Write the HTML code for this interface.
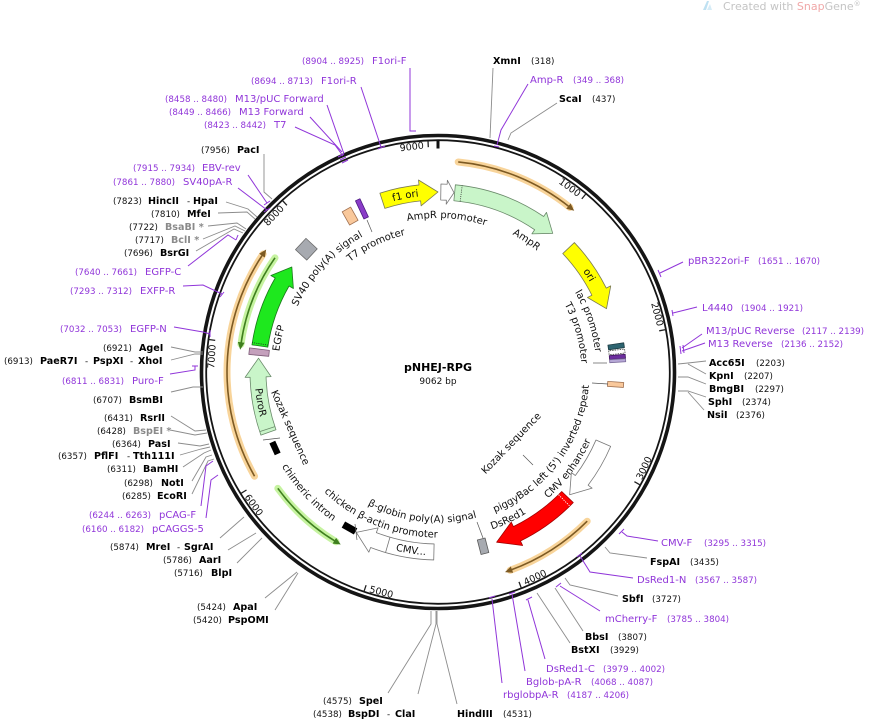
<!DOCTYPE html>
<html><head><meta charset="utf-8"><title>pNHEJ-RPG</title>
<style>
html,body{margin:0;padding:0;background:#fff;}
svg{display:block;}
text{font-family:"DejaVu Sans","Liberation Sans",sans-serif;}
.n{font-size:8.7px;fill:#111;}
.e{font-size:9.6px;font-weight:bold;fill:#000;}
.g{font-size:9.6px;font-weight:bold;fill:#8a8a8a;}
.pn{font-size:8.7px;fill:#9035d9;}
.p{font-size:10px;fill:#9035d9;}
.f{font-size:10px;fill:#111;}
.t{font-size:9.5px;fill:#111;}
.gl{stroke:#8c8c8c;stroke-width:0.9;fill:none;}
.pl{stroke:#9035d9;stroke-width:1;fill:none;}
</style></head><body>
<svg width="875" height="721" viewBox="0 0 875 721" xmlns="http://www.w3.org/2000/svg">
<defs>
<marker id="mo" markerUnits="userSpaceOnUse" markerWidth="8" markerHeight="8" refX="2" refY="4" orient="auto" viewBox="0 0 8 8"><path d="M0,0.6 L7.5,4 L0,7.4 z" fill="#7d5a23"/></marker>
<marker id="mg" markerUnits="userSpaceOnUse" markerWidth="8" markerHeight="8" refX="2" refY="4" orient="auto" viewBox="0 0 8 8"><path d="M0,0.6 L7.5,4 L0,7.4 z" fill="#3f7f1f"/></marker>
<path id="t154" d="M-151.66,-26.74 A154,154 0 0 1 151.66,-26.74"/>
<path id="t156" d="M-154.12,-27.18 A156.5,156.5 0 0 1 154.12,-27.18"/>
<path id="t176" d="M-173.82,-30.65 A176.5,176.5 0 0 1 173.82,-30.65"/>
<path id="t158" d="M-156.09,-27.52 A158.5,158.5 0 0 1 156.09,-27.52"/>
<path id="t143" d="M-141.32,-24.92 A143.5,143.5 0 0 1 141.32,-24.92"/>
<path id="t160" d="M-157.57,-27.78 A160,160 0 0 1 157.57,-27.78"/>
<path id="t155" d="M-152.65,-26.92 A155,155 0 0 1 152.65,-26.92"/>
<path id="t141" d="M-138.86,-24.48 A141,141 0 0 1 138.86,-24.48"/>
<path id="b151" d="M-149.20,26.31 A151.5,151.5 0 0 0 149.20,26.31"/>
<path id="b167" d="M-164.96,29.09 A167.5,167.5 0 0 0 164.96,29.09"/>
<path id="b166" d="M-163.97,28.91 A166.5,166.5 0 0 0 163.97,28.91"/>
<path id="b150" d="M-148.21,26.13 A150.5,150.5 0 0 0 148.21,26.13"/>
<path id="b165" d="M-162.99,28.74 A165.5,165.5 0 0 0 162.99,28.74"/>
<path id="b183" d="M-180.71,31.86 A183.5,183.5 0 0 0 180.71,31.86"/>
<path id="b182" d="M-179.73,31.69 A182.5,182.5 0 0 0 179.73,31.69"/>
</defs>

<!-- SnapGene watermark -->
<path d="M703,10 L707,1 L709,1 L706,10 Z" fill="#bfe1f2"/>
<path d="M707,10 L710,4 L712,10 Z" fill="#d6ecf7"/>
<text x="723" y="10" font-size="11" fill="#c4c4c4">Created with <tspan fill="#f0a8a8">Snap</tspan>Gene<tspan font-size="7" dy="-4">®</tspan></text>

<g transform="translate(438 372)">
  <!-- backbone -->
  <circle r="236.5" fill="none" stroke="#151515" stroke-width="3.6"/>
  <circle r="231.8" fill="none" stroke="#151515" stroke-width="1.8"/>
  <!-- ticks -->
  <path d="M143.8,-173.1 L147.9,-178.1 M221.2,-41.2 L227.6,-42.4 M196.4,109.7 L202.1,112.9 M81.0,209.9 L83.3,216.0 M-71.9,213.2 L-74.0,219.4 M-191.5,118.0 L-197.1,121.4 M-222.8,-31.6 L-229.2,-32.5 M-151.1,-166.7 L-155.5,-171.5 M-9.7,-224.8 L-10.0,-231.3" stroke="#222" stroke-width="1.3" fill="none"/>
  <path d="M0,-223.5 L0,-231.5" stroke="#111" stroke-width="3"/>
  <g class="t" text-anchor="middle">
    <text transform="translate(131.9 -184.7) rotate(35.53)" dy="3.4">1000</text>
    <text transform="translate(219.5 -57.8) rotate(75.25)" dy="3.4">2000</text>
    <text transform="translate(205.8 95.9) rotate(-65.02)" dy="3.4">3000</text>
    <text transform="translate(97.0 205.2) rotate(-25.3)" dy="3.4">4000</text>
    <text transform="translate(-56.6 219.8) rotate(14.43)" dy="3.4">5000</text>
    <text transform="translate(-184.0 132.9) rotate(54.16)" dy="3.4">6000</text>
    <text transform="translate(-226.5 -15.4) rotate(-86.12)" dy="3.4">7000</text>
    <text transform="translate(-164.3 -156.6) rotate(-46.39)" dy="3.4">8000</text>
    <text transform="translate(-26.3 -225.5) rotate(-6.66)" dy="3.4">9000</text>
  </g>

  <!-- ORFs -->
  <g fill="none" stroke-linecap="round">
    <path d="M20.22,-210.03 A211,211 0 0 1 131.92,-164.66" stroke="#f8d49a" stroke-width="7"/>
    <path d="M-183.46,104.21 A211,211 0 0 1 -174.92,-117.99" stroke="#f8d49a" stroke-width="7"/>
    <path d="M149.2,149.2 A211,211 0 0 1 72.17,198.28" stroke="#f8d49a" stroke-width="7"/>
    <path d="M-163.01,-114.15 A199,199 0 0 0 -197.06,-27.70" stroke="#c6f3a0" stroke-width="7"/>
    <path d="M-160.18,116.38 A198,198 0 0 0 -101.98,169.72" stroke="#c6f3a0" stroke-width="7"/>
  </g>
  <g fill="none" stroke-width="1.6">
    <path d="M20.22,-210.03 A211,211 0 0 1 131.92,-164.66" stroke="#7d5a23" marker-end="url(#mo)"/>
    <path d="M-183.46,104.21 A211,211 0 0 1 -174.92,-117.99" stroke="#7d5a23" marker-end="url(#mo)"/>
    <path d="M149.2,149.2 A211,211 0 0 1 72.17,198.28" stroke="#7d5a23" marker-end="url(#mo)"/>
    <path d="M-163.01,-114.15 A199,199 0 0 0 -197.06,-27.70" stroke="#3f7f1f" marker-end="url(#mg)"/>
    <path d="M-160.18,116.38 A198,198 0 0 0 -101.98,169.72" stroke="#3f7f1f" marker-end="url(#mg)"/>
  </g>

  <!-- features -->
  <g stroke-width="0.8" stroke-linejoin="round">
    <path d="M-58.09,-178.81 A188,188 0 0 1 -19.01,-187.04 L-19.51,-192.02 L0,-180 L-16.88,-166.15 L-17.39,-171.12 A172,172 0 0 0 -53.15,-163.59 Z" fill="#ffff00" stroke="#7a7a50"/>
    <path d="M2.95,-187.98 A188,188 0 0 1 9.17,-187.77 L9.37,-191.77 L16.00,-179.28 L8.20,-167.80 L8.39,-171.79 A172,172 0 0 0 2.70,-171.98 Z" fill="#fff" stroke="#777"/>
    <path d="M17.37,-187.19 A188,188 0 0 1 105.67,-155.49 L108.49,-159.63 L114.73,-138.69 L93.87,-138.13 L96.68,-142.26 A172,172 0 0 0 15.89,-171.26 Z" fill="#c9f5c9" stroke="#6a8a6a"/>
    <path d="M136.38,-129.42 A188,188 0 0 1 168.24,-83.89 L172.72,-86.12 L168.50,-63.32 L149.45,-74.52 L153.92,-76.75 A172,172 0 0 0 124.77,-118.40 Z" fill="#ffff00" stroke="#7a7a50"/>
    <path d="M172.66,74.35 A188,188 0 0 1 150.14,113.14 L154.13,116.15 L131.65,122.76 L133.37,100.50 L137.36,103.51 A172,172 0 0 0 157.96,68.03 Z" fill="#fff" stroke="#777"/>
    <path d="M135.23,130.60 A188,188 0 0 1 82.42,168.97 L84.61,173.47 L58.61,170.19 L73.21,150.10 L75.40,154.59 A172,172 0 0 0 123.72,119.49 Z" fill="#ff0000" stroke="#a00000"/>
    <path d="M-4.27,187.94 A188,188 0 0 1 -67.38,175.52 L-69.17,180.18 L-81.72,160.38 L-59.85,155.91 L-61.64,160.58 A172,172 0 0 0 -3.90,171.95 Z" fill="#fff" stroke="#777"/>
    <path d="M-52.45,180.54 L-47.99,165.17" stroke="#777"/>
    <path d="M-177.11,63.07 A188,188 0 0 1 -187.92,5.25 L-192.92,5.38 L-179.48,-13.81 L-166.93,4.66 L-171.93,4.80 A172,172 0 0 0 -162.04,57.71 Z" fill="#c9f5c9" stroke="#6a8a6a"/>
    <path d="M-163.11,54.58 L-178.28,59.65" stroke="#6a8a6a"/>
    <path d="M-186.03,-27.15 A188,188 0 0 1 -162.81,-94.0 L-167.14,-96.5 L-146.18,-105.03 L-144.62,-83.5 L-148.95,-86.0 A172,172 0 0 0 -170.19,-24.84 Z" fill="#1ee81e" stroke="#1a7a1a"/>
    <path d="M-189.18,-17.56 L-188.46,-24.15 L-168.62,-21.61 L-169.27,-15.71 Z" fill="#c4a0bc" stroke="#7e5c78"/>
    <rect x="-7.7" y="-7.7" width="15.4" height="15.4" transform="translate(-131.65 -122.76) rotate(-47)" fill="#a7aab0" stroke="#6a6a6a"/>
    <rect x="-4.85" y="-7.6" width="9.7" height="15.2" transform="translate(-87.87 -155.94) rotate(-29.4)" fill="#f9c89b" stroke="#a07050"/>
    <rect x="-2.5" y="-10" width="5" height="20" transform="translate(-76.07 -163.13) rotate(-25)" fill="#8a3cc8" stroke="#4b1a80"/>
    <rect x="-2.4" y="-8" width="4.8" height="16" transform="translate(178.16 -25.67) rotate(81.8)" fill="#2d6470" stroke="#1c3a40"/>
    <rect x="-2" y="-8" width="4" height="16" transform="translate(178.88 -20.06) rotate(83.6)" fill="#fff" stroke="#444" stroke-dasharray="1.5 1"/>
    <rect x="-2" y="-8" width="4" height="16" transform="translate(179.37 -15.06) rotate(85.2)" fill="#6c2e9e" stroke="#40155e"/>
    <rect x="-1.5" y="-8" width="3" height="16" transform="translate(179.65 -11.30) rotate(86.4)" fill="#b6a7d6" stroke="#7a6a9a"/>
    <rect x="-2.5" y="-8" width="5" height="16" transform="translate(177.57 12.42) rotate(94)" fill="#f9c89b" stroke="#a07050"/>
    <rect x="-4" y="-7.5" width="8" height="15" transform="translate(45.07 174.26) rotate(165.5)" fill="#a7aab0" stroke="#5a5a5a"/>
    <rect x="-7" y="-3.5" width="14" height="7" transform="translate(-88.5 156) rotate(209.5)" fill="#000"/>
    <rect x="-6.5" y="-3.2" width="13" height="6.4" transform="translate(-163 76) rotate(245.5)" fill="#000"/>
  </g>
  <!-- dotted marks -->
  <path d="M22.15,-170.57 L24.21,-186.43" stroke="#333" stroke-width="0.8" stroke-dasharray="1 1.2"/>
  <path d="M-169.88,-26.90 L-185.69,-29.40" stroke="#222" stroke-width="0.8" stroke-dasharray="1 1.2"/>
  <path d="M120.55,122.69 L131.77,134.10" stroke="#fff" stroke-width="0.9" stroke-dasharray="1.2 1.2"/>

  <!-- inner leader lines -->
  <g stroke="#555" stroke-width="0.7" fill="none">
    <path d="M-71,-152 L-66,-140"/>
    <path d="M155,-9 L169,-9"/>
    <path d="M154,11 L170,12"/>
    <path d="M85,83 L95,93"/>
    <path d="M39,150 L45,166"/>
    <path d="M-175,68 L-158,66"/>
    <path d="M-83,152 L-81,168"/>
  </g>

  <!-- feature labels -->
  <g class="f" text-anchor="middle">
    <g transform="rotate(3.3)"><text text-anchor="middle"><textPath href="#t154" startOffset="50%">AmpR promoter</textPath></text></g>
    <g transform="rotate(33.8)"><text text-anchor="middle"><textPath href="#t156" startOffset="50%">AmpR</textPath></text></g>
    <g transform="rotate(-10.5)"><text text-anchor="middle"><textPath href="#t176" startOffset="50%">f1 ori</textPath></text></g>
    <g transform="rotate(57.3)"><text text-anchor="middle"><textPath href="#t176" startOffset="50%">ori</textPath></text></g>
    <g transform="rotate(71.3)"><text text-anchor="middle"><textPath href="#t158" startOffset="50%">lac promoter</textPath></text></g>
    <g transform="rotate(74.2)"><text text-anchor="middle"><textPath href="#t143" startOffset="50%">T3 promoter</textPath></text></g>
    <g transform="rotate(-53.5)"><text text-anchor="middle"><textPath href="#b151" startOffset="50%">piggyBac left (5') inverted repeat</textPath></text></g>
    <g transform="rotate(-53.4)"><text text-anchor="middle"><textPath href="#b167" startOffset="50%">CMV enhancer</textPath></text></g>
    <g transform="rotate(-25.5)"><text text-anchor="middle"><textPath href="#b166" startOffset="50%">DsRed1</textPath></text></g>
    <g transform="rotate(6.5)"><text text-anchor="middle"><textPath href="#b150" startOffset="50%">β-globin poly(A) signal</textPath></text></g>
    <g transform="rotate(21.8)"><text text-anchor="middle"><textPath href="#b165" startOffset="50%">chicken β-actin promoter</textPath></text></g>
    <g transform="rotate(8.6)"><text text-anchor="middle"><textPath href="#b183" startOffset="50%">CMV...</textPath></text></g>
    <g transform="rotate(47)"><text text-anchor="middle"><textPath href="#b182" startOffset="50%">chimeric intron</textPath></text></g>
    <g transform="rotate(80.3)"><text text-anchor="middle"><textPath href="#b183" startOffset="50%">PuroR</textPath></text></g>
    <g transform="rotate(-78)"><text text-anchor="middle"><textPath href="#t160" startOffset="50%">EGFP</textPath></text></g>
    <g transform="rotate(-47)"><text text-anchor="middle"><textPath href="#t155" startOffset="50%">SV40 poly(A) signal</textPath></text></g>
    <g transform="rotate(-26)"><text text-anchor="middle"><textPath href="#t141" startOffset="50%">T7 promoter</textPath></text></g>
  </g>
</g>

<!-- straight inner labels -->
<text class="f" text-anchor="middle" transform="translate(511 443) rotate(-46)" dy="3.5">Kozak sequence</text>
<text class="f" text-anchor="middle" transform="translate(290.5 427.5) rotate(66)" dy="3.5">Kozak sequence</text>

<!-- center -->
<text x="438" y="371" text-anchor="middle" font-weight="bold" font-size="11" fill="#000">pNHEJ-RPG</text>
<text x="438" y="384" text-anchor="middle" font-size="9" fill="#111">9062 bp</text>

<!-- enzyme leader lines -->
<g class="gl">
  <polyline points="264,154 264,192 272,199"/>
  <polyline points="226,202 248,209 257,217"/>
  <polyline points="218,213 247,212 255,219"/>
  <polyline points="208,226 237,223 246,229"/>
  <polyline points="203,239 235,226 245,231"/>
  <polyline points="196,251 234,229 243,233"/>
  <polyline points="171,347 195,352 203,352"/>
  <polyline points="171,360 195,354 203,354"/>
  <polyline points="171,392 193,387 203,387"/>
  <polyline points="171,416 195,431 206,430"/>
  <polyline points="170,430 195,435 207,433"/>
  <polyline points="178,443 200,446 209,444"/>
  <polyline points="180,455 201,449 210,447"/>
  <polyline points="183,467 204,453 211,450"/>
  <polyline points="192,481 206,457 212,455"/>
  <polyline points="192,494 208,461 214,459"/>
  <polyline points="220,538 244,517"/>
  <polyline points="228,550 256,533"/>
  <polyline points="237,563 262,538"/>
  <polyline points="265,598 297,572"/>
  <polyline points="275,610 298,573"/>
  <polyline points="388,693 431,624 431,611"/>
  <polyline points="418,694 436,624 436,611"/>
  <polyline points="457,704 437,624 437,611"/>
  <polyline points="570,643 537,593"/>
  <polyline points="583,631 555,588"/>
  <polyline points="618,596 570,585 565,578"/>
  <polyline points="647,558 610,553 605,547"/>
  <polyline points="706,361 688,363 678,364"/>
  <polyline points="706,374 688,364"/>
  <polyline points="706,384 688,377 678,377"/>
  <polyline points="706,397 688,391 678,391"/>
  <polyline points="704,410 688,392"/>
  <polyline points="493,68 490,138"/>
  <polyline points="557,103 511,133 508,140"/>
</g>

<!-- primer leader lines -->
<g class="pl">
  <polyline points="410,68 410,131 416,131"/>
  <polyline points="361,87 381,147"/><path d="M378,149 L385,146"/>
  <polyline points="327,105 344,154"/>
  <polyline points="310,117 342,152"/>
  <polyline points="295,127 335,145 343,156"/>
  <path d="M338,157 L344,154 M340,160 L346,157 M342,163 L348,160"/>
  <polyline points="248,175 267,203"/><path d="M264,205 L270,201"/>
  <polyline points="238,188 267,210"/><path d="M264,212 L270,208"/>
  <polyline points="188,266 228,235 236,240"/><path d="M236,240 L238,235"/>
  <polyline points="183,286 203,285 222,294"/><path d="M220,297 L224,292"/>
  <polyline points="174,327 203,332 210,334"/><path d="M210,330 L210,337"/>
  <polyline points="170,374 195,370 195,366"/><path d="M192,366 L198,366"/>
  <polyline points="201,506 206,466 213,461"/>
  <polyline points="206,518 211,480 218,475"/>
  <polyline points="502,683 492,599"/><path d="M489,598 L495,596"/>
  <polyline points="525,671 512,594"/><path d="M509,594 L515,592"/>
  <polyline points="545,659 528,600"/><path d="M526,600 L532,597"/>
  <polyline points="600,611 560,586"/><path d="M556,587 L561,583"/>
  <polyline points="633,578 590,572 580,556"/><path d="M577,557 L582,553"/>
  <polyline points="658,541 627,536 622,532"/><path d="M619,534 L624,529"/>
  <polyline points="683,262 660,273"/><path d="M658,270 L661,277"/>
  <polyline points="697,307 673,313"/><path d="M672,310 L673,316"/>
  <polyline points="702,334 682,348"/>
  <polyline points="705,343 682,351"/>
  <path d="M680,346 L681,354 M683,345 L684,353"/>
  <polyline points="528,84 501,130 497,145"/><path d="M494,146 L499,147"/>
</g>

<!-- outer labels: top / left -->
<text class="pn" x="302" y="64">(8904 .. 8925)</text><text class="p" x="372" y="64">F1ori-F</text>
<text class="pn" x="251" y="84">(8694 .. 8713)</text><text class="p" x="321" y="84">F1ori-R</text>
<text class="pn" x="165" y="102">(8458 .. 8480)</text><text class="p" x="235" y="102">M13/pUC Forward</text>
<text class="pn" x="169" y="115">(8449 .. 8466)</text><text class="p" x="239" y="115">M13 Forward</text>
<text class="pn" x="204" y="128">(8423 .. 8442)</text><text class="p" x="274" y="128">T7</text>
<text class="n" x="201" y="153">(7956)</text><text class="e" x="237" y="153">PacI</text>
<text class="pn" x="133" y="171">(7915 .. 7934)</text><text class="p" x="202" y="171">EBV-rev</text>
<text class="pn" x="113" y="185">(7861 .. 7880)</text><text class="p" x="183" y="185">SV40pA-R</text>
<text class="n" x="113" y="204">(7823)</text><text class="e" x="148" y="204">HincII</text><text class="n" x="187" y="204">-</text><text class="e" x="193" y="204">HpaI</text>
<text class="n" x="151" y="217">(7810)</text><text class="e" x="187" y="217">MfeI</text>
<text class="n" x="129" y="230">(7722)</text><text class="g" x="165" y="230">BsaBI *</text>
<text class="n" x="135" y="243">(7717)</text><text class="g" x="171" y="243">BclI *</text>
<text class="n" x="124" y="256">(7696)</text><text class="e" x="160" y="256">BsrGI</text>
<text class="pn" x="75" y="275">(7640 .. 7661)</text><text class="p" x="145" y="275">EGFP-C</text>
<text class="pn" x="70" y="294">(7293 .. 7312)</text><text class="p" x="140" y="294">EXFP-R</text>
<text class="pn" x="60" y="332">(7032 .. 7053)</text><text class="p" x="130" y="332">EGFP-N</text>
<text class="n" x="103" y="351">(6921)</text><text class="e" x="139" y="351">AgeI</text>
<text class="n" x="4" y="364">(6913)</text><text class="e" x="40" y="364">PaeR7I</text><text class="n" x="85" y="364">-</text><text class="e" x="93" y="364">PspXI</text><text class="n" x="130" y="364">-</text><text class="e" x="138" y="364">XhoI</text>
<text class="pn" x="62" y="384">(6811 .. 6831)</text><text class="p" x="132" y="384">Puro-F</text>
<text class="n" x="93" y="403">(6707)</text><text class="e" x="129" y="403">BsmBI</text>
<text class="n" x="104" y="421">(6431)</text><text class="e" x="140" y="421">RsrII</text>
<text class="n" x="97" y="434">(6428)</text><text class="g" x="133" y="434">BspEI *</text>
<text class="n" x="112" y="447">(6364)</text><text class="e" x="148" y="447">PasI</text>
<text class="n" x="58" y="459">(6357)</text><text class="e" x="94" y="459">PflFI</text><text class="n" x="127" y="459">-</text><text class="e" x="133" y="459">Tth111I</text>
<text class="n" x="107" y="472">(6311)</text><text class="e" x="143" y="472">BamHI</text>
<text class="n" x="124" y="486">(6298)</text><text class="e" x="161" y="486">NotI</text>
<text class="n" x="122" y="499">(6285)</text><text class="e" x="157" y="499">EcoRI</text>
<text class="pn" x="89" y="518">(6244 .. 6263)</text><text class="p" x="159" y="518">pCAG-F</text>
<text class="pn" x="82" y="532">(6160 .. 6182)</text><text class="p" x="152" y="532">pCAGGS-5</text>
<text class="n" x="110" y="550">(5874)</text><text class="e" x="146" y="550">MreI</text><text class="n" x="177" y="550">-</text><text class="e" x="184" y="550">SgrAI</text>
<text class="n" x="163" y="563">(5786)</text><text class="e" x="199" y="563">AarI</text>
<text class="n" x="174" y="576">(5716)</text><text class="e" x="211" y="576">BlpI</text>
<text class="n" x="197" y="610">(5424)</text><text class="e" x="233" y="610">ApaI</text>
<text class="n" x="193" y="623">(5420)</text><text class="e" x="228" y="623">PspOMI</text>

<!-- bottom -->
<text class="n" x="323" y="704">(4575)</text><text class="e" x="359" y="704">SpeI</text>
<text class="n" x="313" y="717">(4538)</text><text class="e" x="348" y="717">BspDI</text><text class="n" x="387" y="717">-</text><text class="e" x="395" y="717">ClaI</text>
<text class="e" x="457" y="717">HindIII</text><text class="n" x="503" y="717">(4531)</text>

<!-- right bottom -->
<text class="p" x="503" y="698">rbglobpA-R</text><text class="pn" x="567" y="698">(4187 .. 4206)</text>
<text class="p" x="526" y="685">Bglob-pA-R</text><text class="pn" x="591" y="685">(4068 .. 4087)</text>
<text class="p" x="546" y="672">DsRed1-C</text><text class="pn" x="603" y="672">(3979 .. 4002)</text>
<text class="e" x="571" y="653">BstXI</text><text class="n" x="610" y="653">(3929)</text>
<text class="e" x="585" y="640">BbsI</text><text class="n" x="618" y="640">(3807)</text>
<text class="p" x="605" y="622">mCherry-F</text><text class="pn" x="667" y="622">(3785 .. 3804)</text>
<text class="e" x="622" y="602">SbfI</text><text class="n" x="652" y="602">(3727)</text>
<text class="p" x="637" y="583">DsRed1-N</text><text class="pn" x="695" y="583">(3567 .. 3587)</text>
<text class="e" x="650" y="565">FspAI</text><text class="n" x="690" y="565">(3435)</text>
<text class="p" x="661" y="546">CMV-F</text><text class="pn" x="704" y="546">(3295 .. 3315)</text>

<!-- right -->
<text class="p" x="688" y="264">pBR322ori-F</text><text class="pn" x="758" y="264">(1651 .. 1670)</text>
<text class="p" x="702" y="311">L4440</text><text class="pn" x="741" y="311">(1904 .. 1921)</text>
<text class="p" x="706" y="334">M13/pUC Reverse</text><text class="pn" x="802" y="334">(2117 .. 2139)</text>
<text class="p" x="708" y="347">M13 Reverse</text><text class="pn" x="781" y="347">(2136 .. 2152)</text>
<text class="e" x="709" y="366">Acc65I</text><text class="n" x="756" y="366">(2203)</text>
<text class="e" x="709" y="379">KpnI</text><text class="n" x="744" y="379">(2207)</text>
<text class="e" x="709" y="392">BmgBI</text><text class="n" x="755" y="392">(2297)</text>
<text class="e" x="708" y="405">SphI</text><text class="n" x="742" y="405">(2374)</text>
<text class="e" x="707" y="418">NsiI</text><text class="n" x="736" y="418">(2376)</text>

<!-- top right -->
<text class="e" x="493" y="64">XmnI</text><text class="n" x="531" y="64">(318)</text>
<text class="p" x="530" y="83">Amp-R</text><text class="pn" x="573" y="83">(349 .. 368)</text>
<text class="e" x="559" y="102">ScaI</text><text class="n" x="592" y="102">(437)</text>
</svg>
</body></html>
